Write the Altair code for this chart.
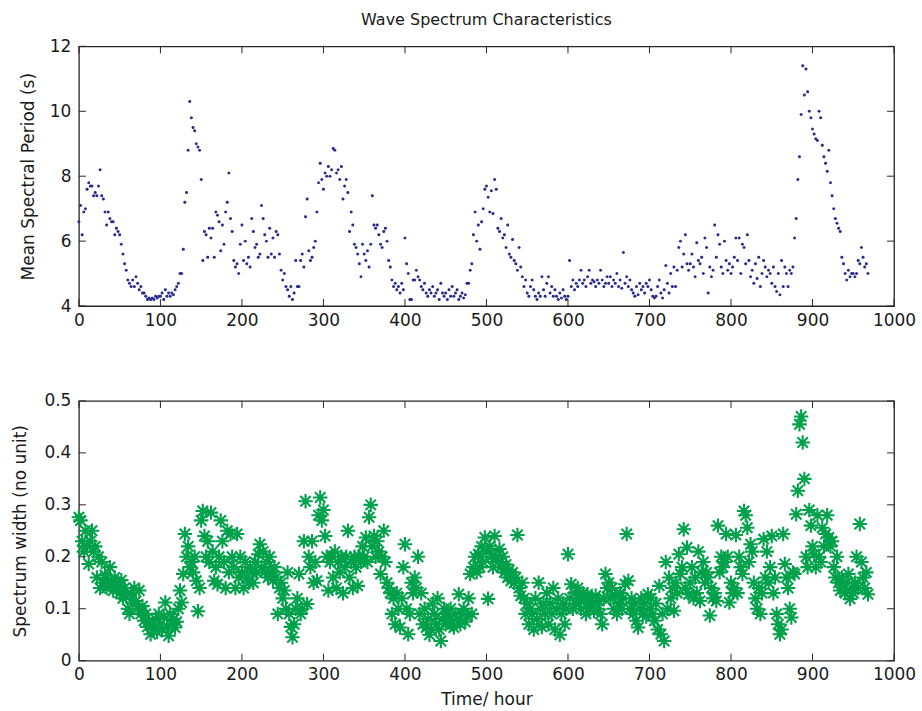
import altair as alt
import pandas as pd

TITLE = "Wave Spectrum Characteristics"
X_TITLE = "Time/ hour"
P_TITLE = "Mean Spectral Period (s)"
W_TITLE = "Spectrum width (no unit)"

X_TICKS = [0, 100, 200, 300, 400, 500, 600, 700, 800, 900, 1000]
P_TICKS = [4, 6, 8, 10, 12]
W_TICKS = [0, 0.1, 0.2, 0.3, 0.4, 0.5]

# Mean spectral period (s), one value every 2 hours, blocks of 50 hours
period_0 = [6.6, 7.1, 6.2, 6.9, 7.0, 7.6, 7.8, 7.7, 7.7, 7.4, 7.5, 7.4, 7.7, 8.2, 7.4, 7.3, 6.9, 6.5, 6.9, 6.7, 6.6, 6.6, 6.2, 6.4, 6.3]
period_50 = [6.2, 5.9, 5.6, 5.3, 5.1, 4.8, 4.7, 4.6, 4.8, 4.6, 4.9, 4.7, 4.5, 4.6, 4.4, 4.4, 4.3, 4.2, 4.25, 4.2, 4.25, 4.2, 4.3, 4.25, 4.3]
period_100 = [4.3, 4.4, 4.2, 4.5, 4.3, 4.4, 4.3, 4.4, 4.35, 4.5, 4.6, 4.7, 5.0, 5.0, 5.75, 7.2, 7.5, 8.8, 10.3, 9.8, 9.5, 9.4, 9.0, 8.9, 8.8]
period_150 = [7.9, 5.4, 6.3, 6.2, 5.5, 6.4, 6.1, 6.4, 5.5, 6.9, 6.8, 6.6, 5.7, 6.5, 5.9, 6.9, 7.2, 8.1, 6.7, 6.3, 5.4, 5.2, 5.3, 5.0, 5.9]
period_200 = [6.5, 5.4, 6.0, 5.3, 5.5, 5.2, 6.7, 6.3, 5.8, 5.9, 5.5, 5.6, 7.1, 6.7, 6.2, 6.0, 5.5, 6.4, 5.6, 6.1, 5.5, 6.3, 6.2, 5.6, 5.1]
period_250 = [4.8, 5.0, 4.6, 4.5, 4.3, 4.6, 4.2, 4.4, 5.4, 4.6, 4.6, 5.4, 5.6, 5.2, 6.75, 7.3, 5.7, 5.4, 5.5, 5.8, 6.0, 6.9, 7.8, 8.4, 7.9]
period_300 = [7.6, 8.1, 8.0, 8.3, 8.0, 8.2, 8.85, 8.8, 8.1, 8.2, 7.9, 8.3, 7.3, 7.7, 7.9, 7.5, 6.3, 6.9, 6.5, 5.9, 5.8, 5.6, 5.3, 4.9, 5.9]
period_350 = [5.6, 5.4, 5.7, 5.2, 5.9, 7.4, 6.5, 6.4, 6.5, 6.2, 5.9, 5.8, 6.3, 6.4, 6.0, 5.4, 5.2, 4.8, 4.6, 4.7, 4.5, 4.6, 4.4, 4.7, 4.5]
period_400 = [6.1, 5.3, 5.0, 4.2, 4.2, 4.8, 4.8, 5.1, 4.9, 4.8, 4.6, 4.5, 4.7, 4.4, 4.3, 4.5, 4.4, 4.6, 4.3, 4.4, 4.5, 4.2, 4.7, 4.4, 4.3]
period_450 = [4.4, 4.2, 4.5, 4.3, 4.6, 4.3, 4.4, 4.5, 4.2, 4.3, 4.4, 4.25, 4.35, 4.7, 4.7, 5.1, 5.3, 6.2, 6.9, 6.0, 6.5, 5.75, 6.6, 7.0, 7.6]
period_500 = [7.7, 7.35, 6.9, 7.55, 6.85, 7.9, 7.6, 6.4, 6.3, 6.7, 6.1, 6.2, 5.8, 6.5, 5.6, 5.5, 6.05, 5.4, 5.3, 5.1, 5.8, 5.2, 4.9, 4.6, 4.8]
period_550 = [4.4, 4.3, 4.6, 4.8, 4.5, 4.3, 4.2, 4.4, 4.3, 4.9, 4.5, 4.3, 4.7, 4.9, 4.4, 4.6, 4.3, 4.5, 4.3, 4.2, 4.4, 4.25, 4.5, 4.3, 4.2]
period_600 = [4.3, 5.4, 4.6, 4.8, 4.5, 4.7, 4.6, 4.8, 5.1, 4.7, 4.8, 4.6, 4.9, 5.1, 4.7, 4.8, 4.75, 4.6, 4.8, 4.7, 5.1, 4.8, 4.6, 4.7, 4.9]
period_650 = [4.7, 4.9, 4.6, 4.8, 4.7, 5.0, 4.6, 4.8, 4.55, 5.65, 4.7, 4.9, 4.6, 4.8, 4.5, 4.4, 4.3, 4.6, 4.35, 4.7, 4.5, 4.6, 4.4, 4.7, 4.6]
period_700 = [4.8, 4.5, 4.3, 4.25, 4.3, 4.6, 4.8, 4.4, 4.25, 4.5, 5.25, 4.7, 4.4, 5.0, 4.6, 5.2, 4.6, 5.1, 5.8, 6.0, 5.2, 5.6, 6.2, 5.3, 5.1]
period_750 = [5.3, 5.6, 5.2, 4.9, 5.95, 5.4, 5.3, 5.5, 5.0, 6.1, 5.8, 4.4, 5.2, 4.9, 5.1, 6.5, 5.5, 6.2, 5.9, 5.2, 5.0, 6.0, 5.4, 5.1, 5.3]
period_800 = [5.0, 5.2, 5.5, 6.1, 5.4, 6.1, 5.0, 5.9, 5.8, 5.3, 6.2, 5.4, 4.9, 5.1, 4.7, 5.3, 4.85, 5.5, 4.6, 5.0, 5.4, 5.2, 4.9, 5.1, 5.0]
period_850 = [4.7, 5.2, 4.6, 4.45, 5.0, 4.35, 5.4, 4.6, 5.2, 5.0, 4.6, 5.1, 5.0, 5.2, 6.1, 6.7, 7.9, 8.6, 9.9, 11.4, 10.5, 11.3, 10.6, 10.0, 9.8]
period_900 = [9.45, 9.3, 9.15, 9.1, 10.0, 9.8, 8.95, 8.6, 8.4, 8.15, 8.8, 7.8, 7.4, 7.0, 6.7, 6.55, 6.4, 6.3, 5.5, 5.3, 5.0, 4.8, 5.1, 4.9, 5.0]
period_950 = [5.0, 4.9, 5.0, 5.4, 5.3, 5.8, 5.5, 5.2, 5.3, 5.0]

# Spectrum width (no unit), one value every 2 hours, blocks of 50 hours
width_0 = [0.276, 0.27, 0.23, 0.21, 0.25, 0.22, 0.186, 0.23, 0.25, 0.21, 0.22, 0.16, 0.2, 0.14, 0.19, 0.15, 0.165, 0.14, 0.155, 0.18, 0.15, 0.135, 0.16, 0.145, 0.15]
width_50 = [0.13, 0.155, 0.12, 0.14, 0.125, 0.1, 0.09, 0.13, 0.11, 0.14, 0.115, 0.1, 0.135, 0.09, 0.105, 0.077, 0.09, 0.065, 0.075, 0.051, 0.07, 0.06, 0.08, 0.055, 0.09]
width_100 = [0.07, 0.06, 0.085, 0.112, 0.065, 0.048, 0.09, 0.07, 0.08, 0.064, 0.075, 0.1, 0.135, 0.112, 0.167, 0.244, 0.2, 0.22, 0.18, 0.19, 0.17, 0.2, 0.154, 0.095, 0.14]
width_150 = [0.27, 0.288, 0.24, 0.2, 0.23, 0.19, 0.285, 0.21, 0.154, 0.18, 0.147, 0.2, 0.27, 0.23, 0.19, 0.14, 0.25, 0.17, 0.244, 0.2, 0.18, 0.14, 0.244, 0.16, 0.2]
width_200 = [0.17, 0.14, 0.19, 0.16, 0.15, 0.18, 0.17, 0.15, 0.19, 0.17, 0.205, 0.224, 0.18, 0.21, 0.17, 0.19, 0.16, 0.2, 0.17, 0.155, 0.18, 0.16, 0.09, 0.14, 0.15]
width_250 = [0.12, 0.135, 0.1, 0.17, 0.09, 0.065, 0.045, 0.07, 0.1, 0.12, 0.167, 0.09, 0.1, 0.23, 0.307, 0.109, 0.2, 0.18, 0.23, 0.15, 0.19, 0.154, 0.28, 0.314, 0.27]
width_300 = [0.29, 0.24, 0.2, 0.135, 0.19, 0.2, 0.16, 0.21, 0.14, 0.19, 0.17, 0.2, 0.13, 0.18, 0.2, 0.25, 0.16, 0.19, 0.14, 0.2, 0.18, 0.144, 0.2, 0.19, 0.22]
width_350 = [0.2, 0.237, 0.19, 0.276, 0.3, 0.22, 0.24, 0.2, 0.23, 0.21, 0.167, 0.2, 0.25, 0.19, 0.15, 0.14, 0.13, 0.09, 0.12, 0.07, 0.13, 0.1, 0.064, 0.12, 0.18]
width_400 = [0.224, 0.1, 0.051, 0.09, 0.15, 0.13, 0.16, 0.14, 0.2, 0.09, 0.13, 0.07, 0.1, 0.064, 0.08, 0.05, 0.06, 0.11, 0.09, 0.07, 0.12, 0.06, 0.038, 0.08, 0.1]
width_450 = [0.07, 0.09, 0.08, 0.1, 0.07, 0.064, 0.09, 0.08, 0.128, 0.07, 0.09, 0.1, 0.075, 0.085, 0.12, 0.167, 0.09, 0.18, 0.2, 0.17, 0.205, 0.18, 0.22, 0.19, 0.237]
width_500 = [0.21, 0.119, 0.22, 0.2, 0.18, 0.24, 0.2, 0.19, 0.215, 0.18, 0.2, 0.17, 0.185, 0.16, 0.175, 0.154, 0.17, 0.15, 0.16, 0.242, 0.14, 0.125, 0.15, 0.12, 0.09]
width_550 = [0.11, 0.07, 0.1, 0.09, 0.06, 0.12, 0.08, 0.15, 0.1, 0.065, 0.11, 0.09, 0.13, 0.07, 0.11, 0.09, 0.14, 0.06, 0.1, 0.12, 0.05, 0.09, 0.11, 0.07, 0.1]
width_600 = [0.205, 0.12, 0.147, 0.1, 0.13, 0.11, 0.14, 0.12, 0.1, 0.13, 0.115, 0.09, 0.128, 0.1, 0.12, 0.11, 0.095, 0.125, 0.1, 0.115, 0.09, 0.07, 0.12, 0.167, 0.14]
width_650 = [0.15, 0.12, 0.14, 0.1, 0.125, 0.09, 0.11, 0.13, 0.1, 0.12, 0.147, 0.244, 0.154, 0.1, 0.12, 0.09, 0.11, 0.077, 0.064, 0.1, 0.12, 0.09, 0.11, 0.085, 0.128]
width_700 = [0.1, 0.12, 0.09, 0.077, 0.11, 0.06, 0.144, 0.051, 0.09, 0.038, 0.19, 0.1, 0.16, 0.12, 0.14, 0.096, 0.15, 0.13, 0.205, 0.167, 0.18, 0.253, 0.14, 0.218, 0.128]
width_750 = [0.15, 0.18, 0.12, 0.16, 0.13, 0.21, 0.115, 0.17, 0.19, 0.15, 0.17, 0.16, 0.087, 0.14, 0.12, 0.13, 0.115, 0.26, 0.17, 0.2, 0.18, 0.19, 0.244, 0.2, 0.112]
width_800 = [0.15, 0.13, 0.14, 0.242, 0.13, 0.2, 0.18, 0.167, 0.288, 0.28, 0.256, 0.19, 0.224, 0.21, 0.15, 0.12, 0.1, 0.14, 0.09, 0.13, 0.234, 0.16, 0.21, 0.15, 0.18]
width_850 = [0.24, 0.13, 0.16, 0.09, 0.07, 0.051, 0.06, 0.244, 0.186, 0.16, 0.14, 0.1, 0.083, 0.17, 0.167, 0.282, 0.327, 0.455, 0.47, 0.42, 0.35, 0.2, 0.18, 0.29, 0.26]
width_900 = [0.22, 0.205, 0.18, 0.28, 0.2, 0.19, 0.256, 0.22, 0.244, 0.28, 0.237, 0.22, 0.23, 0.18, 0.16, 0.2, 0.15, 0.135, 0.16, 0.14, 0.13, 0.15, 0.167, 0.119, 0.14]
width_950 = [0.13, 0.15, 0.2, 0.14, 0.263, 0.19, 0.16, 0.14, 0.17, 0.128]

PERIOD_BLOCKS = [period_0, period_50, period_100, period_150, period_200, period_250, period_300,
                 period_350, period_400, period_450, period_500, period_550, period_600, period_650,
                 period_700, period_750, period_800, period_850, period_900, period_950]
WIDTH_BLOCKS = [width_0, width_50, width_100, width_150, width_200, width_250, width_300,
                width_350, width_400, width_450, width_500, width_550, width_600, width_650,
                width_700, width_750, width_800, width_850, width_900, width_950]


def to_frame(blocks, name):
    rows = []
    for b, vals in enumerate(blocks):
        for i, v in enumerate(vals):
            rows.append({"t": 50 * b + 2 * i, name: v})
    return pd.DataFrame(rows)


df_p = to_frame(PERIOD_BLOCKS, "val")
df_w = to_frame(WIDTH_BLOCKS, "val")

FONT = "DejaVu Sans"
AX = "#262626"
TXT = "#1a1a1a"
BLUE = "#272b8e"
GREEN = "#00a14b"
W, H = 816, 260
TL = 7
ASTERISK = "M-1,0L1,0M0,-1L0,1M-0.72,-0.72L0.72,0.72M-0.72,0.72L0.72,-0.72"

xscale = alt.Scale(domain=[0, 1000], nice=False, zero=False)


def panel(df, ticks_y, ydomain, ytitle, mark, xtitle, title_pad, yfmt):
    x_axis = alt.Axis(values=X_TICKS, ticks=False, domain=False, grid=False, labelFlush=False,
                      labelPadding=6, format="d", title=xtitle, titlePadding=9)
    y_axis = alt.Axis(values=ticks_y, ticks=False, domain=False, grid=False, labelFlush=False,
                      labelPadding=8, format=yfmt, title=ytitle, titlePadding=title_pad)
    yscale = alt.Scale(domain=ydomain, nice=False, zero=False)
    X = alt.X("t:Q", scale=xscale, axis=x_axis)
    Y = alt.Y("val:Q", scale=yscale, axis=y_axis)
    pts = alt.Chart(df).mark_point(**mark).encode(x=X, y=Y)
    xt = pd.DataFrame({"t": X_TICKS})
    yt = pd.DataFrame({"val": ticks_y})
    tb = alt.Chart(xt).mark_rule(color=AX, strokeWidth=1).encode(
        x=X, y=alt.value(H), y2=alt.value(H - TL))
    tt = alt.Chart(xt).mark_rule(color=AX, strokeWidth=1).encode(
        x=X, y=alt.value(0), y2=alt.value(TL))
    tl = alt.Chart(yt).mark_rule(color=AX, strokeWidth=1).encode(
        y=Y, x=alt.value(0), x2=alt.value(TL))
    tr = alt.Chart(yt).mark_rule(color=AX, strokeWidth=1).encode(
        y=Y, x=alt.value(W), x2=alt.value(W - TL))
    return alt.layer(pts, tb, tt, tl, tr).properties(width=W, height=H)


top = panel(df_p, P_TICKS, [4, 12], P_TITLE,
            dict(filled=True, shape="circle", size=9, color=BLUE, opacity=1),
            None, 12, "d").properties(
    title=alt.TitleParams(TITLE, fontSize=16, font=FONT, fontWeight="normal",
                          color=TXT, anchor="middle", frame="group", offset=9))

bottom = panel(df_w, W_TICKS, [0, 0.5], W_TITLE,
               dict(filled=False, shape=ASTERISK, size=210, color=GREEN, opacity=1, strokeWidth=2.1),
               X_TITLE, 14, ".1~f")

chart = alt.vconcat(top, bottom, spacing=62).properties(
    padding={"left": 11, "top": 11, "right": 5, "bottom": 5},
    background="white",
).configure_view(stroke=AX, strokeWidth=1.3).configure_axis(
    labelFont=FONT, labelFontSize=17, labelColor=TXT,
    titleFont=FONT, titleFontSize=17, titleFontWeight="normal", titleColor=TXT,
)

chart.save("out.html", embed_options={"renderer": "svg", "actions": False})
